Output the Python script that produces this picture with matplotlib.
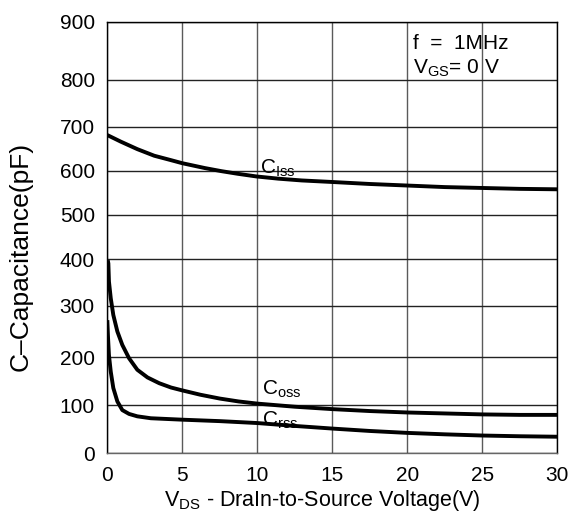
import numpy as np
import matplotlib
matplotlib.use("Agg")
import matplotlib.pyplot as plt

plt.rcParams['font.family'] = ['Liberation Sans', 'DejaVu Sans']

#-readings taken from the datasheet curve (V, pF)
vds_iss = [0, 0.9, 2.0, 3.13, 4.24, 5, 6.5, 7.6, 8.7, 9.94, 11.4, 12.95,
           15, 17.5, 20, 22.5, 25, 27.5, 30]
ciss = [681, 666, 649, 634, 624, 617, 606, 599, 593, 587, 582, 578,
        574.5, 570, 566.5, 563, 561, 559, 558]

vds_oss = [0.03, 0.07, 0.11, 0.23, 0.40, 0.67, 1.0, 1.45, 2.0, 2.68, 3.46, 4.25,
           5, 6.2, 7.5, 8.75, 10, 12.5, 15, 17.5, 20, 22.5, 25, 27.5, 30]
coss = [398, 391, 352, 316, 282, 250, 224, 198, 174, 158, 146, 137,
        131, 122, 114, 108, 103.5, 97, 92, 88, 85, 83, 81, 80, 80]

vds_rss = [0, 0.05, 0.11, 0.23, 0.40, 0.67, 1.0, 1.45, 2.0, 2.9,
           5, 7.5, 10, 12.5, 15, 17.5, 20, 22.5, 25, 27.5, 30]
crss = [272, 237, 204, 170, 136, 108, 90, 82, 77, 73,
        70, 67, 63, 57, 51.5, 46.5, 42.5, 39.5, 37, 35.5, 34.5]

x_ticks = [0, 5, 10, 15, 20, 25, 30]
y_ticks = [0, 100, 200, 300, 400, 500, 600, 700, 800, 900]

#-the printed y grid is not evenly spaced: height of each grid line above 0 (px)
y_grid_h = [0, 48, 96, 147.6, 194, 238.3, 282.6, 326.6, 373.3, 431.6]


def yfwd(v):
    return np.interp(v, y_ticks, y_grid_h)


def yinv(u):
    return np.interp(u, y_grid_h, y_ticks)


fig = plt.figure(figsize=(5.76, 5.13), dpi=100)
ax = fig.add_axes([0.1863, 0.1164, 0.78125, 0.8413])

ax.set_yscale('function', functions=(yfwd, yinv))
ax.set_xlim(0, 30)
ax.set_ylim(0, 900)
ax.set_xticks(x_ticks)
ax.set_yticks(y_ticks)
ax.tick_params(length=0, labelsize=15)
ax.tick_params(axis='x', pad=9)
ax.tick_params(axis='y', pad=9)

ax.set_axisbelow(True)
ax.xaxis.grid(True, color='#5a5a5a', lw=1.0)
ax.yaxis.grid(True, color='#222222', lw=1.0)
for s in ['left', 'top', 'right']:
    ax.spines[s].set_color('black')
ax.spines['bottom'].set_color('#666666')
for s in ax.spines.values():
    s.set_linewidth(1.0)

for xs, ys in [(vds_iss, ciss), (vds_oss, coss), (vds_rss, crss)]:
    ax.plot(xs, ys, color='black', lw=2.8, solid_capstyle='butt',
            solid_joinstyle='round')

ax.text(10.2, 595, r'C$_{\mathregular{Iss}}$', fontsize=15, va='baseline')
ax.text(10.3, 123, r'C$_{\mathregular{oss}}$', fontsize=15, va='baseline')
ax.text(10.3, 59, r'C$_{\mathregular{rss}}$', fontsize=15, va='baseline')

ax.text(20.4, 853, 'f  =  1MHz', fontsize=15, va='baseline')
ax.text(20.4, 812, r'V$_{\mathregular{GS}}$= 0 V', fontsize=15, va='baseline')

ax.set_xlabel(r'V$_{\mathregular{DS}}$ - DraIn-to-Source Voltage(V)', fontsize=15.5)
ax.xaxis.set_label_coords(0.477, -0.08)
ax.set_ylabel('C\u2013Capacitance(pF)', fontsize=19)
ax.yaxis.set_label_coords(-0.165, 0.455)

fig.savefig('out.png', dpi=100)
